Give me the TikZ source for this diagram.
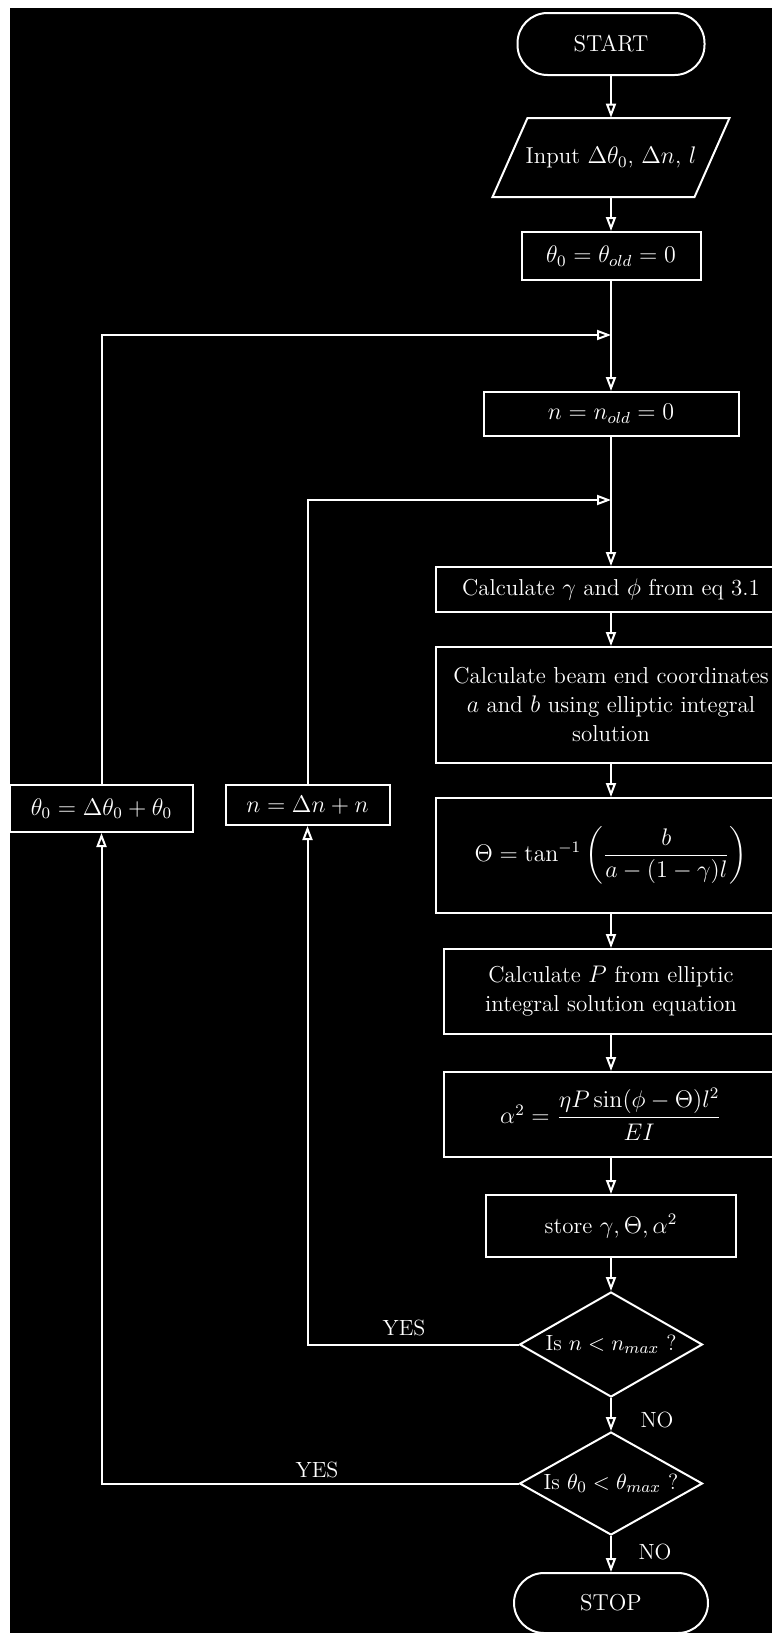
\documentclass[tikz,border=0pt]{standalone}
\usepackage{amsmath}
\usetikzlibrary{arrows.meta,shapes.geometric}
\begin{document}
\begin{tikzpicture}[x=0.5pt,y=-0.5pt,
  every node/.style={text=white, font=\fontsize{11.5}{14.5}\selectfont},
  box/.style={draw=white, line width=1pt, rectangle, inner sep=2pt, align=center},
  term/.style={draw=white, line width=1pt, rectangle, rounded corners=15pt, inner sep=0pt},
  dec/.style={draw=white, line width=1pt, diamond, aspect=1.75, inner sep=0pt, font=\fontsize{11}{13}\selectfont},
  arr/.style={draw=white, line width=1pt, -{Triangle[open,length=7pt,width=5pt]}},
  ln/.style={draw=white, line width=1pt},
  lbl/.style={font=\fontsize{11}{13}\selectfont}]
\useasboundingbox (0,0) rectangle (772,1633);
\fill[white] (0,0) rectangle (772,1633);
\fill[black] (10,8) rectangle (772,1633);
\clip (0,0) rectangle (772,1633);

% main column
\node[term, minimum width=93.5pt, minimum height=31pt] (start) at (611,44) {START};
\node[minimum width=101pt, minimum height=39.5pt] (inp) at (611,157.5) {Input $\Delta\theta_0$, $\Delta n$, $l$};
\draw[ln] (492.5,197) -- (527.5,118) -- (729.5,118) -- (694.5,197) -- cycle;
\node[box, minimum width=89.5pt, minimum height=24pt] (th0) at (611,256) {$\theta_0=\theta_{old}=0$};
\coordinate (j1) at (611,335);
\node[box, minimum width=127.5pt, minimum height=22pt] (nb) at (611,414) {$n=n_{old}=0$};
\coordinate (j2) at (611,500);
\node[box, minimum width=175pt, minimum height=22.5pt] (c1) at (611,589.5) {Calculate $\gamma$ and $\phi$ from eq 3.1};
\node[box, minimum width=175pt, minimum height=58pt] (c2) at (611,705) {Calculate beam end coordinates\\ $a$ and $b$ using elliptic integral\\ solution};
\node[box, minimum width=175pt, minimum height=57.5pt] (c3) at (611,855.5) {$\Theta=\tan^{-1}\left(\dfrac{b}{a-(1-\gamma)l}\right)$};
\node[box, minimum width=167pt, minimum height=42.5pt] (c4) at (611,991.5) {Calculate $P$ from elliptic\\ integral solution equation};
\node[box, minimum width=167pt, minimum height=42.5pt] (c5) at (611,1114.5) {$\alpha^2=\dfrac{\eta P\sin(\phi-\Theta)l^2}{EI}$};
\node[box, minimum width=125pt, minimum height=31pt] (st) at (611,1226) {store $\gamma,\Theta,\alpha^2$};
\node[dec, minimum width=91.5pt, minimum height=52.5pt] (d1) at (611,1344.5) {Is $n<n_{max}$ ?};
\node[dec, minimum width=91.5pt, minimum height=51.5pt] (d2) at (611,1483.5) {Is $\theta_0<\theta_{max}$ ?};
\node[term, minimum width=97pt, minimum height=30pt] (stop) at (611,1603) {STOP};

% left column
\node[box, minimum width=91.5pt, minimum height=23.5pt] (l1) at (101.5,808.5) {$\theta_0=\Delta\theta_0+\theta_0$};
\node[box, minimum width=82pt, minimum height=20pt] (l2) at (307.5,805) {$n=\Delta n+n$};

% connectors
\draw[arr] (start) -- (inp);
\draw[arr] (inp) -- (th0);
\draw[arr] (th0) -- (nb);
\draw[arr] (nb) -- (c1);
\draw[arr] (c1) -- (c2);
\draw[arr] (c2) -- (c3);
\draw[arr] (c3) -- (c4);
\draw[arr] (c4) -- (c5);
\draw[arr] (c5) -- (st);
\draw[arr] (st) -- (d1);
\draw[arr] (d1) -- (d2);
\draw[arr] (d2) -- (stop);
\draw[arr] (d1.west) -| (l2.south);
\draw[arr] (l2.north) |- (j2);
\draw[arr] (d2.west) -| (l1.south);
\draw[arr] (l1.north) |- (j1);

% labels
\node[lbl] (yes1) at (404,1328) {YES};
\node[lbl] (yes2) at (317,1470) {YES};
\node[lbl] (no1) at (657,1420) {NO};
\node[lbl] (no2) at (655,1552) {NO};
\end{tikzpicture}
\end{document}
